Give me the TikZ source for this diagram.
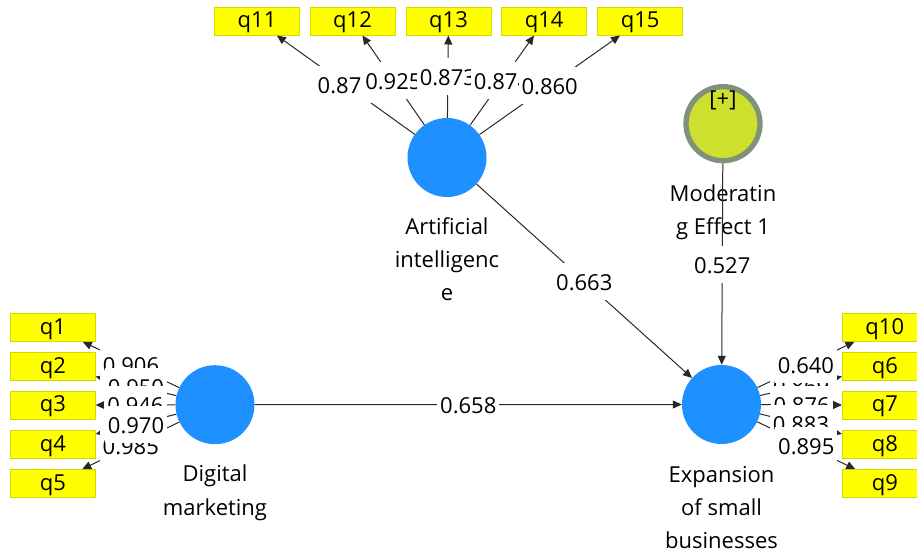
\documentclass[tikz,border=0pt]{standalone}
\usepackage{fontspec}
\setmainfont{Open Sans}
\usetikzlibrary{arrows.meta}

\definecolor{lvblue}{RGB}{30,144,255}
\definecolor{modfill}{RGB}{205,224,45}
\definecolor{modring}{RGB}{128,145,124}
\definecolor{indfill}{RGB}{255,255,0}
\definecolor{indedge}{RGB}{215,215,0}
\definecolor{wire}{RGB}{40,40,40}

\begin{document}
\begin{tikzpicture}[x=1pt,y=-1pt,
  font=\fontsize{22}{33.3}\selectfont,
  latent/.style={circle, fill=lvblue, minimum size=79pt, inner sep=0pt},
  moder/.style={circle, fill=modfill, draw=modring, line width=5.3pt,
                minimum size=74pt, inner sep=0pt},
  indbox/.style={rectangle, fill=indfill, draw=indedge, line width=0.6pt,
                 minimum width=85pt, minimum height=28pt, inner sep=0pt,
                 text height=16pt, text depth=2.5pt},
  lvname/.style={align=center, anchor=base, inner sep=0pt},
  link/.style={draw=wire, line width=1pt, -{Triangle[length=9pt,width=8pt]}},
  coef/.style={fill=white, inner xsep=3pt, inner ysep=3pt,
               text height=24.5pt, text depth=6.5pt, midway},
]
\useasboundingbox (0,0) rectangle (917,556);
\clip (0,0) rectangle (917,556);

% latent variables
\node[latent] (ai) at (447,157.5) {};
\node[latent] (dm) at (215,404.7) {};
\node[latent] (ex) at (721.5,404.5) {};
\node[moder]  (md) at (723,123.7) {};
\node[anchor=base, inner sep=0pt] (mdplus) at (723,106.5) {[+]};

% latent variable names (anchored at the baseline of the last line)
\node[lvname] (ainame) at (447,300.9) {Artificial\\intelligenc\\e};
\node[lvname] (mdname) at (723,234.3) {Moderatin\\g Effect 1};
\node[lvname] (dmname) at (215,515) {Digital\\marketing};
\node[lvname] (exname) at (721.5,548.9) {Expansion\\of small\\businesses};

% indicators of Artificial intelligence
\node[indbox] (q11) at (257,21.2) {q11};
\node[indbox] (q12) at (352.5,21.2) {q12};
\node[indbox] (q13) at (448.5,21.2) {q13};
\node[indbox] (q14) at (544.2,21.2) {q14};
\node[indbox] (q15) at (640.2,21.2) {q15};

% indicators of Digital marketing
\node[indbox] (q1) at (52.8,327.5) {q1};
\node[indbox] (q2) at (52.8,366.5) {q2};
\node[indbox] (q3) at (52.8,405.2) {q3};
\node[indbox] (q4) at (52.8,444.5) {q4};
\node[indbox] (q5) at (52.8,483.5) {q5};

% indicators of Expansion of small businesses
\node[indbox] (q10) at (884.8,327.5) {q10};
\node[indbox] (q6)  at (884.8,366.5) {q6};
\node[indbox] (q7)  at (884.8,405.2) {q7};
\node[indbox] (q8)  at (884.8,444.5) {q8};
\node[indbox] (q9)  at (884.8,483.5) {q9};

% outer loadings
\foreach \q in {q11,q12,q13,q14,q15} \draw[link] (ai) -- (\q);
\foreach \q in {q1,q2,q3,q4,q5} \draw[link] (dm) -- (\q);
\foreach \q in {q10,q6,q7,q8,q9} \draw[link] (ex) -- (\q);

% structural paths
\draw[link] (ai) -- (ex);
\draw[link] (md) -- (ex);
\draw[link] (dm) -- (ex);

% coefficients
\path (ai) -- (q11) node[coef] {0.871};
\path (ai) -- (q12) node[coef] {0.925};
\path (ai) -- (q13) node[coef] {0.873};
\path (ai) -- (q14) node[coef] {0.874};
\path (ai) -- (q15) node[coef] {0.860};

\path (dm) -- (q1) node[coef] {0.906};
\path (dm) -- (q2) node[coef] {0.950};
\path (dm) -- (q3) node[coef] {0.946};
\path (dm) -- (q5) node[coef] {0.985};
\path (dm) -- (q4) node[coef] {0.970};

\path (ex) -- (q6)  node[coef] {0.869};
\path (ex) -- (q10) node[coef] {0.640};
\path (ex) -- (q7)  node[coef] {0.876};
\path (ex) -- (q8)  node[coef] {0.883};
\path (ex) -- (q9)  node[coef] {0.895};

\path (ai) -- (ex) node[coef] {0.663};
\path (md) -- (ex) node[coef] {0.527};
\path (dm) -- (ex) node[coef] {0.658};
\end{tikzpicture}
\end{document}
